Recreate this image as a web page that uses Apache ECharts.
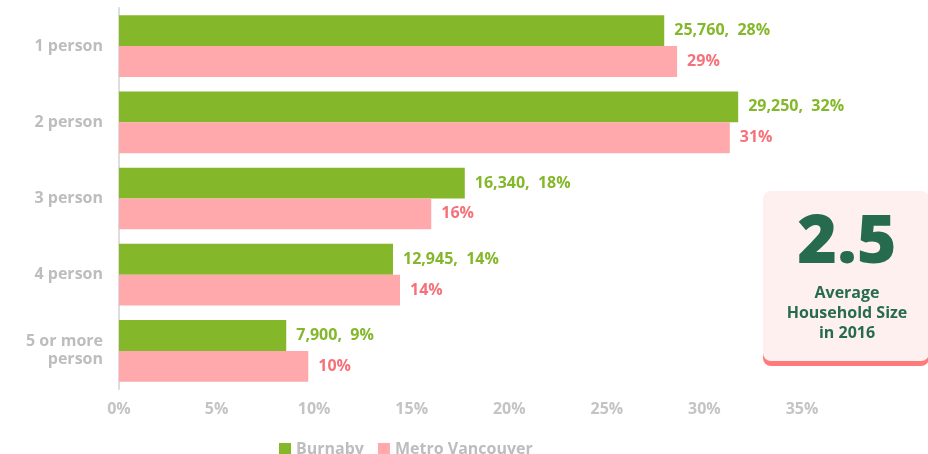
<!DOCTYPE html>
<html>
  <head>
      <meta charset="utf-8">
      <script src="https://cdn.jsdelivr.net/npm/echarts@6/dist/echarts.min.js"></script>
  </head>
  <body style="margin:0">
      <div id="main" style="width: 928px;height:454px;"></div>
      <script type="text/javascript">
          var categories = ['1 person', '2 person', '3 person', '4 person', '5 or more\nperson'];
          var burnabyCounts = [25760, 29250, 16340, 12945, 7900];
          var burnabyPct = [27.94, 31.73, 17.72, 14.04, 8.57];
          var metroPct = [28.6, 31.3, 16.0, 14.4, 9.7];
          var xTicks = [0, 5, 10, 15, 20, 25, 30, 35];

          var myChart = echarts.init(document.getElementById('main'));

          var font = '"Open Sans", Lato, sans-serif';

          option = {
              color: ['#84b82a', '#ffa9ac'],
              textStyle: {fontFamily: font},
              grid: {left: 119, right: 126, top: 8, bottom: 65},
              legend: {
                  data: ['Burnaby', 'Metro Vancouver'],
                  left: 274,
                  top: 436,
                  itemWidth: 12,
                  itemHeight: 12,
                  itemGap: 14,
                  icon: 'rect',
                  textStyle: {color: '#bdbdbd', fontSize: 16, fontWeight: 'bold', fontFamily: font}
              },
              xAxis: {
                  type: 'value',
                  min: xTicks[0],
                  max: xTicks[xTicks.length - 1],
                  interval: 5,
                  splitLine: {show: false},
                  axisLine: {show: false},
                  axisTick: {show: false},
                  axisLabel: {
                      formatter: '{value}%',
                      color: '#c4c4c4',
                      fontSize: 16,
                      fontWeight: 'bold',
                      margin: 12
                  }
              },
              yAxis: {
                  type: 'category',
                  inverse: true,
                  data: categories,
                  axisTick: {show: false},
                  axisLine: {lineStyle: {color: '#dddddd', width: 2}},
                  axisLabel: {
                      color: '#bdbdbd',
                      fontSize: 16,
                      fontWeight: 'bold',
                      margin: 16,
                      lineHeight: 18,
                      align: 'right'
                  }
              },
              graphic: [
                  {
                      type: 'rect',
                      shape: {x: 763, y: 195, width: 166, height: 171, r: 8},
                      style: {fill: '#ff7b7b'}
                  },
                  {
                      type: 'rect',
                      shape: {x: 763, y: 191, width: 166, height: 170, r: 8},
                      style: {fill: '#fdf0ef'}
                  },
                  {
                      type: 'text',
                      x: 847, y: 244,
                      style: {
                          text: '2.5', fill: '#276b4e', font: '800 68px ' + font,
                          align: 'center', verticalAlign: 'middle'
                      }
                  },
                  {
                      type: 'text',
                      x: 847, y: 313,
                      style: {
                          text: 'Average\nHousehold Size\nin 2016', fill: '#276b4e',
                          font: 'bold 16px ' + font, lineHeight: 20,
                          align: 'center', verticalAlign: 'middle'
                      }
                  }
              ],
              series: [
                  {
                      name: 'Burnaby',
                      type: 'bar',
                      barGap: 0,
                      barCategoryGap: '19%',
                      data: burnabyPct,
                      label: {
                          show: true,
                          position: 'right',
                          distance: 10,
                          color: '#84b82a',
                          fontSize: 16,
                          fontWeight: 'bold',
                          formatter: function (p) {
                              return burnabyCounts[p.dataIndex].toLocaleString('en-US') + ',  ' + Math.round(p.value) + '%';
                          }
                      }
                  },
                  {
                      name: 'Metro Vancouver',
                      type: 'bar',
                      data: metroPct,
                      label: {
                          show: true,
                          position: 'right',
                          distance: 10,
                          color: '#f6727a',
                          fontSize: 16,
                          fontWeight: 'bold',
                          formatter: function (p) {
                              return Math.round(p.value) + '%';
                          }
                      }
                  }
              ]
          };
          myChart.setOption(option);
      </script>
  </body>
</html>
